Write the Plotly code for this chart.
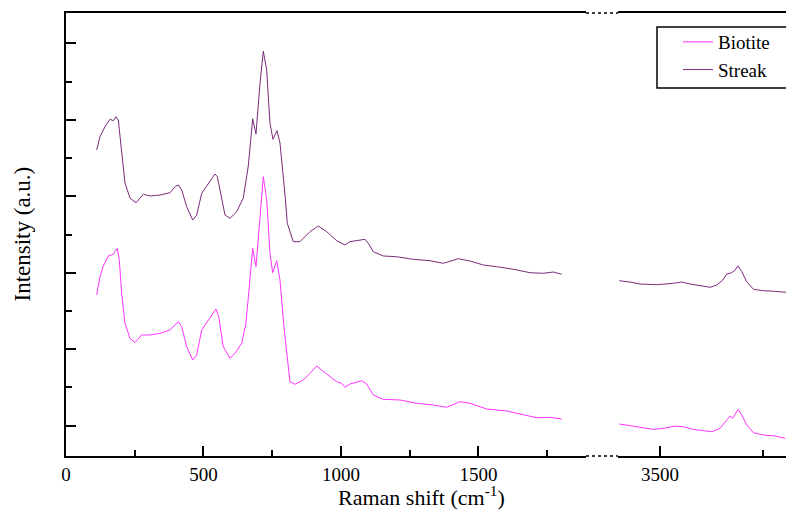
import plotly.graph_objects as go

# ---- data (Raman shift in cm-1, intensity in a.u.) ----
streak_low_x = [111.6, 123.6, 141.8, 160, 172, 181.8, 190.2, 202.5, 214.5, 232.7, 254.5, 281.1, 305.5, 341.8,
                378.2, 396.4, 408.4, 420.7, 438.9, 460.7, 475.3, 493.5, 511.6, 541.8, 550.2, 560, 578.2, 596.4,
                620.7, 644.7, 662.9, 678.9, 690.9, 705.5, 717.5, 729.8, 735.6, 741.8, 752.7, 767.3, 778.2, 790.2,
                798.2, 804.7, 826.5, 850.9, 887.3, 917.5, 948, 984.4, 1014.5, 1032.7, 1062.9, 1087.3, 1099.3,
                1117.5, 1153.8, 1202.5, 1262.9, 1323.6, 1372, 1402.5, 1426.5, 1469.1, 1517.5, 1566.2, 1626.5,
                1687.3, 1735.6, 1772, 1802.5]
streak_low_y = [3.606, 3.780, 3.911, 4.008, 3.990, 4.042, 3.999, 3.606, 3.174, 2.977, 2.916, 3.026, 3.004, 3.017,
                3.047, 3.126, 3.148, 3.082, 2.864, 2.690, 2.755, 3.039, 3.135, 3.292, 3.257, 3.082, 2.755, 2.712,
                2.798, 2.978, 3.397, 4.014, 3.815, 4.479, 4.899, 4.653, 4.304, 3.955, 3.746, 3.859, 3.698, 3.279,
                2.952, 2.647, 2.406, 2.406, 2.537, 2.611, 2.537, 2.419, 2.363, 2.406, 2.419, 2.437, 2.385,
                2.275, 2.219, 2.209, 2.175, 2.157, 2.123, 2.157, 2.183, 2.153, 2.101, 2.079, 2.045,
                2.000, 1.992, 2.009, 1.979]

streak_high_x = [3401.2, 3427.2, 3451.5, 3492, 3532.3, 3552.7, 3572.8, 3597.1, 3621.4, 3637.6, 3652.2, 3661.9,
                 3674, 3682, 3689.3, 3698.3, 3710.4, 3726.5, 3750.7, 3775, 3799.3, 3822.1]
streak_high_y = [1.895, 1.878, 1.852, 1.843, 1.861, 1.878, 1.852, 1.826, 1.809, 1.839, 1.904, 1.983,
                 2.000, 2.035, 2.088, 2.013, 1.882, 1.783, 1.764, 1.757, 1.743, 1.738]

biotite_low_x = [111.6, 123.6, 135.6, 153.8, 172, 186.5, 193.8, 202.5, 214.5, 232.7, 250.9, 275.3, 305.5, 341.8,
                 378.2, 408.4, 420.7, 438.9, 460.7, 475.3, 493.5, 517.5, 545.5, 555.3, 572, 596.4, 614.5, 638.9,
                 654.5, 666.5, 678.9, 690.9, 702.9, 717.5, 729.8, 741.8, 751.6, 766.2, 778.2, 792.7, 808.4,
                 814.5, 832.7, 862.9, 887.3, 911.6, 948, 984.4, 1002.5, 1014.5, 1032.7, 1075.3, 1093.5, 1117.5,
                 1153.8, 1214.5, 1275.3, 1335.6, 1384.4, 1432.7, 1469.1, 1529.8, 1602.5, 1662.9, 1711.6, 1760,
                 1802.5]
biotite_low_y = [1.708, 1.948, 2.088, 2.219, 2.241, 2.319, 2.166, 1.730, 1.338, 1.141, 1.084, 1.185, 1.185, 1.207,
                 1.250, 1.359, 1.293, 1.031, 0.857, 0.923, 1.250, 1.381, 1.525, 1.424, 1.031, 0.880, 0.945, 1.076,
                 1.338, 1.817, 2.319, 2.079, 2.602, 3.257, 2.952, 2.254, 2.000, 2.157, 1.904, 1.293, 0.770,
                 0.573, 0.539, 0.596, 0.683, 0.779, 0.674, 0.573, 0.552, 0.500, 0.543, 0.586, 0.543, 0.399,
                 0.343, 0.334, 0.291, 0.268, 0.238, 0.312, 0.291, 0.216, 0.190, 0.137, 0.102, 0.107,
                 0.085]

biotite_high_x = [3401.2, 3427.2, 3451.5, 3483.7, 3508, 3536.4, 3556.6, 3580.8, 3605.1, 3625.5, 3645.6, 3657.8,
                  3669.9, 3676.5, 3689.3, 3698.3, 3710.4, 3726.5, 3750.7, 3779.1, 3803.4]
biotite_high_y = [0.020, -0.003, -0.016, -0.050, -0.037, -0.007, -0.016, -0.050, -0.068, -0.081, -0.037, 0.050,
                  0.124, 0.094, 0.212, 0.137, 0.007, -0.094, -0.124, -0.137, -0.168]

x_left_range = [0, 1891]
x_right_range = [3398, 3825]
y_range = [-0.399, 5.399]

BIOTITE_COLOR = "#ff33ff"
STREAK_COLOR = "#7a2a7c"
FONT = "Liberation Serif"

fig = go.Figure()
fig.add_trace(go.Scatter(x=biotite_low_x, y=biotite_low_y, mode="lines", name="Biotite",
                         line=dict(color=BIOTITE_COLOR, width=1), xaxis="x", yaxis="y"))
fig.add_trace(go.Scatter(x=streak_low_x, y=streak_low_y, mode="lines", name="Streak",
                         line=dict(color=STREAK_COLOR, width=1), xaxis="x", yaxis="y"))
fig.add_trace(go.Scatter(x=biotite_high_x, y=biotite_high_y, mode="lines", name="Biotite", showlegend=False,
                         line=dict(color=BIOTITE_COLOR, width=1), xaxis="x2", yaxis="y"))
fig.add_trace(go.Scatter(x=streak_high_x, y=streak_high_y, mode="lines", name="Streak", showlegend=False,
                         line=dict(color=STREAK_COLOR, width=1), xaxis="x2", yaxis="y"))

# page body has an 8px margin, so the figure is offset by 8px
OFF = 8
W, H = 794 - OFF, 512 - OFF
ml, mr, mt, mb = 66 - OFF, 0, 13 - OFF, 56
pw = W - ml - mr
ph = H - mt - mb
# pixel positions below are page pixels
def px(p):
    return (p - 66) / pw
def py(p):
    return (456 - p) / ph

left_end = px(586)
right_start = px(618)

axis_common = dict(showline=True, linecolor="black", linewidth=1.5, mirror=True, showgrid=False,
                   zeroline=False, ticks="inside", ticklen=10, tickwidth=1.5, tickcolor="black",
                   tick0=0, dtick=500,
                   minor=dict(ticks="inside", ticklen=6, tickwidth=1.5, tickcolor="black", dtick=250, showgrid=False),
                   tickfont=dict(family=FONT, size=19, color="black"))

fig.update_layout(
    width=W, height=H,
    margin=dict(l=ml, r=mr, t=mt, b=mb, autoexpand=False),
    paper_bgcolor="white", plot_bgcolor="white",
    font=dict(family=FONT, color="black"),
    xaxis=dict(domain=[0, left_end], range=x_left_range, anchor="y", **axis_common),
    xaxis2=dict(domain=[right_start, 1], range=x_right_range, anchor="y", **axis_common),
    yaxis=dict(range=y_range, showline=True, linecolor="black", linewidth=1.5, mirror=False,
               showgrid=False, zeroline=False, ticks="inside", ticklen=10, tickwidth=1.5, tickcolor="black",
               tick0=0, dtick=1, showticklabels=False,
               minor=dict(ticks="inside", ticklen=6, tickwidth=1.5, tickcolor="black", dtick=0.5, showgrid=False)),
    legend=dict(x=px(678), y=py(23), xanchor="left", yanchor="top",
                borderwidth=0, bgcolor="rgba(0,0,0,0)",
                font=dict(family=FONT, size=19, color="black"), tracegroupgap=0, itemwidth=30),
    showlegend=True,
    annotations=[
        dict(text="Raman shift (cm<sup>-1</sup>)", xref="paper", yref="paper",
             x=px(421.7), y=py(496), xanchor="center", yanchor="middle",
             showarrow=False, font=dict(family=FONT, size=22, color="black")),
        dict(text="Intensity (a.u.)", xref="paper", yref="paper", textangle=-90,
             x=px(22), y=py(234.5), xanchor="center", yanchor="middle",
             showarrow=False, font=dict(family=FONT, size=23, color="black")),
    ],
    shapes=[
        dict(type="line", xref="paper", yref="paper", x0=left_end, x1=right_start, y0=0, y1=0,
             line=dict(color="black", width=1.5, dash="dot")),
        dict(type="line", xref="paper", yref="paper", x0=left_end, x1=right_start, y0=1, y1=1,
             line=dict(color="black", width=1.5, dash="dot")),
        # legend frame
        dict(type="rect", xref="paper", yref="paper", x0=px(657), x1=px(791), y0=py(88), y1=py(27),
             line=dict(color="black", width=1.5), fillcolor="white", layer="below"),
    ],
)

fig.write_html("out.html")
